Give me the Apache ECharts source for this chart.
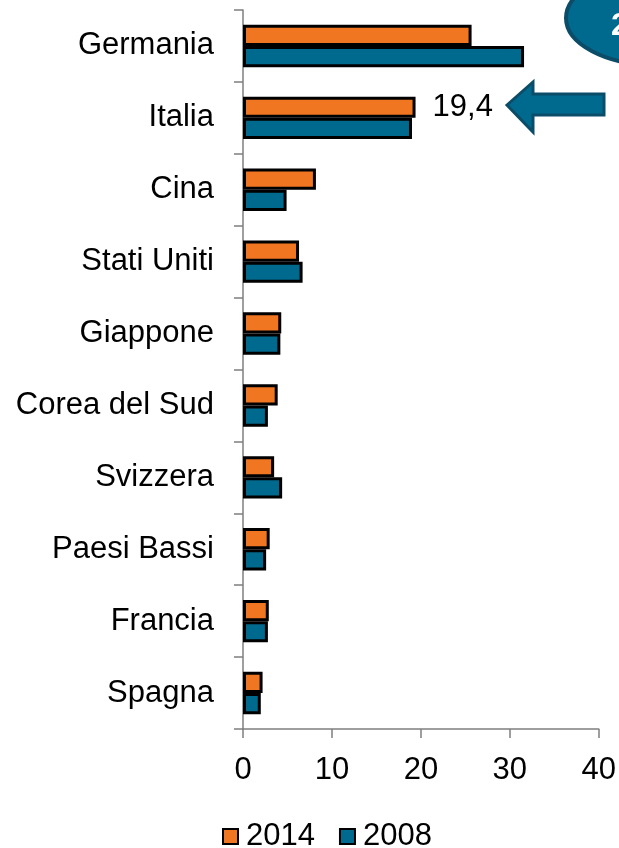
<!DOCTYPE html>
<html>
<head>
<meta charset="utf-8">
<script src="https://cdn.jsdelivr.net/npm/echarts@6/dist/echarts.min.js"></script>
<style>
  html, body { margin: 0; padding: 0; background: #fff; }
  #chart { width: 619px; height: 848px; }
</style>
</head>
<body>
<div id="chart"></div>
<script>
var paesi = ['Germania', 'Italia', 'Cina', 'Stati Uniti', 'Giappone', 'Corea del Sud', 'Svizzera', 'Paesi Bassi', 'Francia', 'Spagna']
var val2014 = [25.7, 19.4, 8.2, 6.3, 4.3, 3.9, 3.5, 3.0, 2.9, 2.2]
var val2008 = [31.6, 19.0, 4.9, 6.7, 4.2, 2.8, 4.4, 2.6, 2.8, 2.0]
var xTicks = [0, 10, 20, 30, 40]

var arancio = '#F07622'
var blu = '#006A8E'
var font = 'Liberation Sans, Arial, sans-serif'

// solo Italia 2014 ha l'etichetta
var dati2014 = val2014.map(function (v, i) {
  if (paesi[i] == 'Italia') {
    return {
      value: v,
      label: {
        show: true,
        position: 'right',
        distance: 17,
        formatter: function (p) { return String(p.value).replace('.', ',') },
        color: '#000',
        fontSize: 31,
        fontFamily: font
      }
    }
  }
  return v
})

var chart = echarts.init(document.getElementById('chart'), null, { renderer: 'canvas' })

var option = {
  backgroundColor: '#fff',
  animation: false,
  grid: { left: 243, right: 20, top: 10, bottom: 119, containLabel: false },
  legend: {
    data: ['2014', '2008'],
    top: 816,
    left: 217,
    itemWidth: 15,
    itemHeight: 15,
    itemGap: 24,
    icon: 'rect',
    textStyle: { fontSize: 31, fontFamily: font, color: '#000', padding: [0, 0, 0, 3] }
  },
  xAxis: {
    type: 'value',
    min: xTicks[0],
    max: xTicks[xTicks.length - 1],
    interval: 10,
    axisLine: { show: true, lineStyle: { color: '#7f7f7f', width: 1.5 } },
    axisTick: { show: true, length: 9, lineStyle: { color: '#7f7f7f', width: 1.5 } },
    splitLine: { show: false },
    axisLabel: { fontSize: 31, fontFamily: font, color: '#000', margin: 26 }
  },
  yAxis: {
    type: 'category',
    data: paesi,
    inverse: true,
    axisLine: { show: true, lineStyle: { color: '#7f7f7f', width: 1.5 } },
    axisTick: { show: true, length: 9, lineStyle: { color: '#7f7f7f', width: 1.5 } },
    axisLabel: { fontSize: 31, fontFamily: font, color: '#000', margin: 29 }
  },
  series: [{
    name: '2014',
    type: 'bar',
    data: dati2014,
    barGap: '0%',
    barCategoryGap: '41%',
    itemStyle: { color: arancio, borderColor: '#000', borderWidth: 3 }
  }, {
    name: '2008',
    type: 'bar',
    data: val2008,
    itemStyle: { color: blu, borderColor: '#000', borderWidth: 3 }
  }],
  graphic: [{
    type: 'ellipse',
    shape: { cx: 655, cy: 18, rx: 89, ry: 47 },
    style: { fill: blu, stroke: '#0B4D68', lineWidth: 4 },
    z: 10
  }, {
    type: 'text',
    left: 611,
    top: 10,
    style: { text: '2', fill: '#fff', font: 'bold 32px Liberation Sans, Arial, sans-serif' },
    z: 11
  }, {
    type: 'polygon',
    shape: {
      points: [[507, 105], [533, 82], [533, 94], [604, 94], [604, 115], [533, 115], [533, 132]]
    },
    style: { fill: blu, stroke: '#0B4D68', lineWidth: 3 },
    z: 10
  }]
}

chart.setOption(option)
</script>
</body>
</html>
